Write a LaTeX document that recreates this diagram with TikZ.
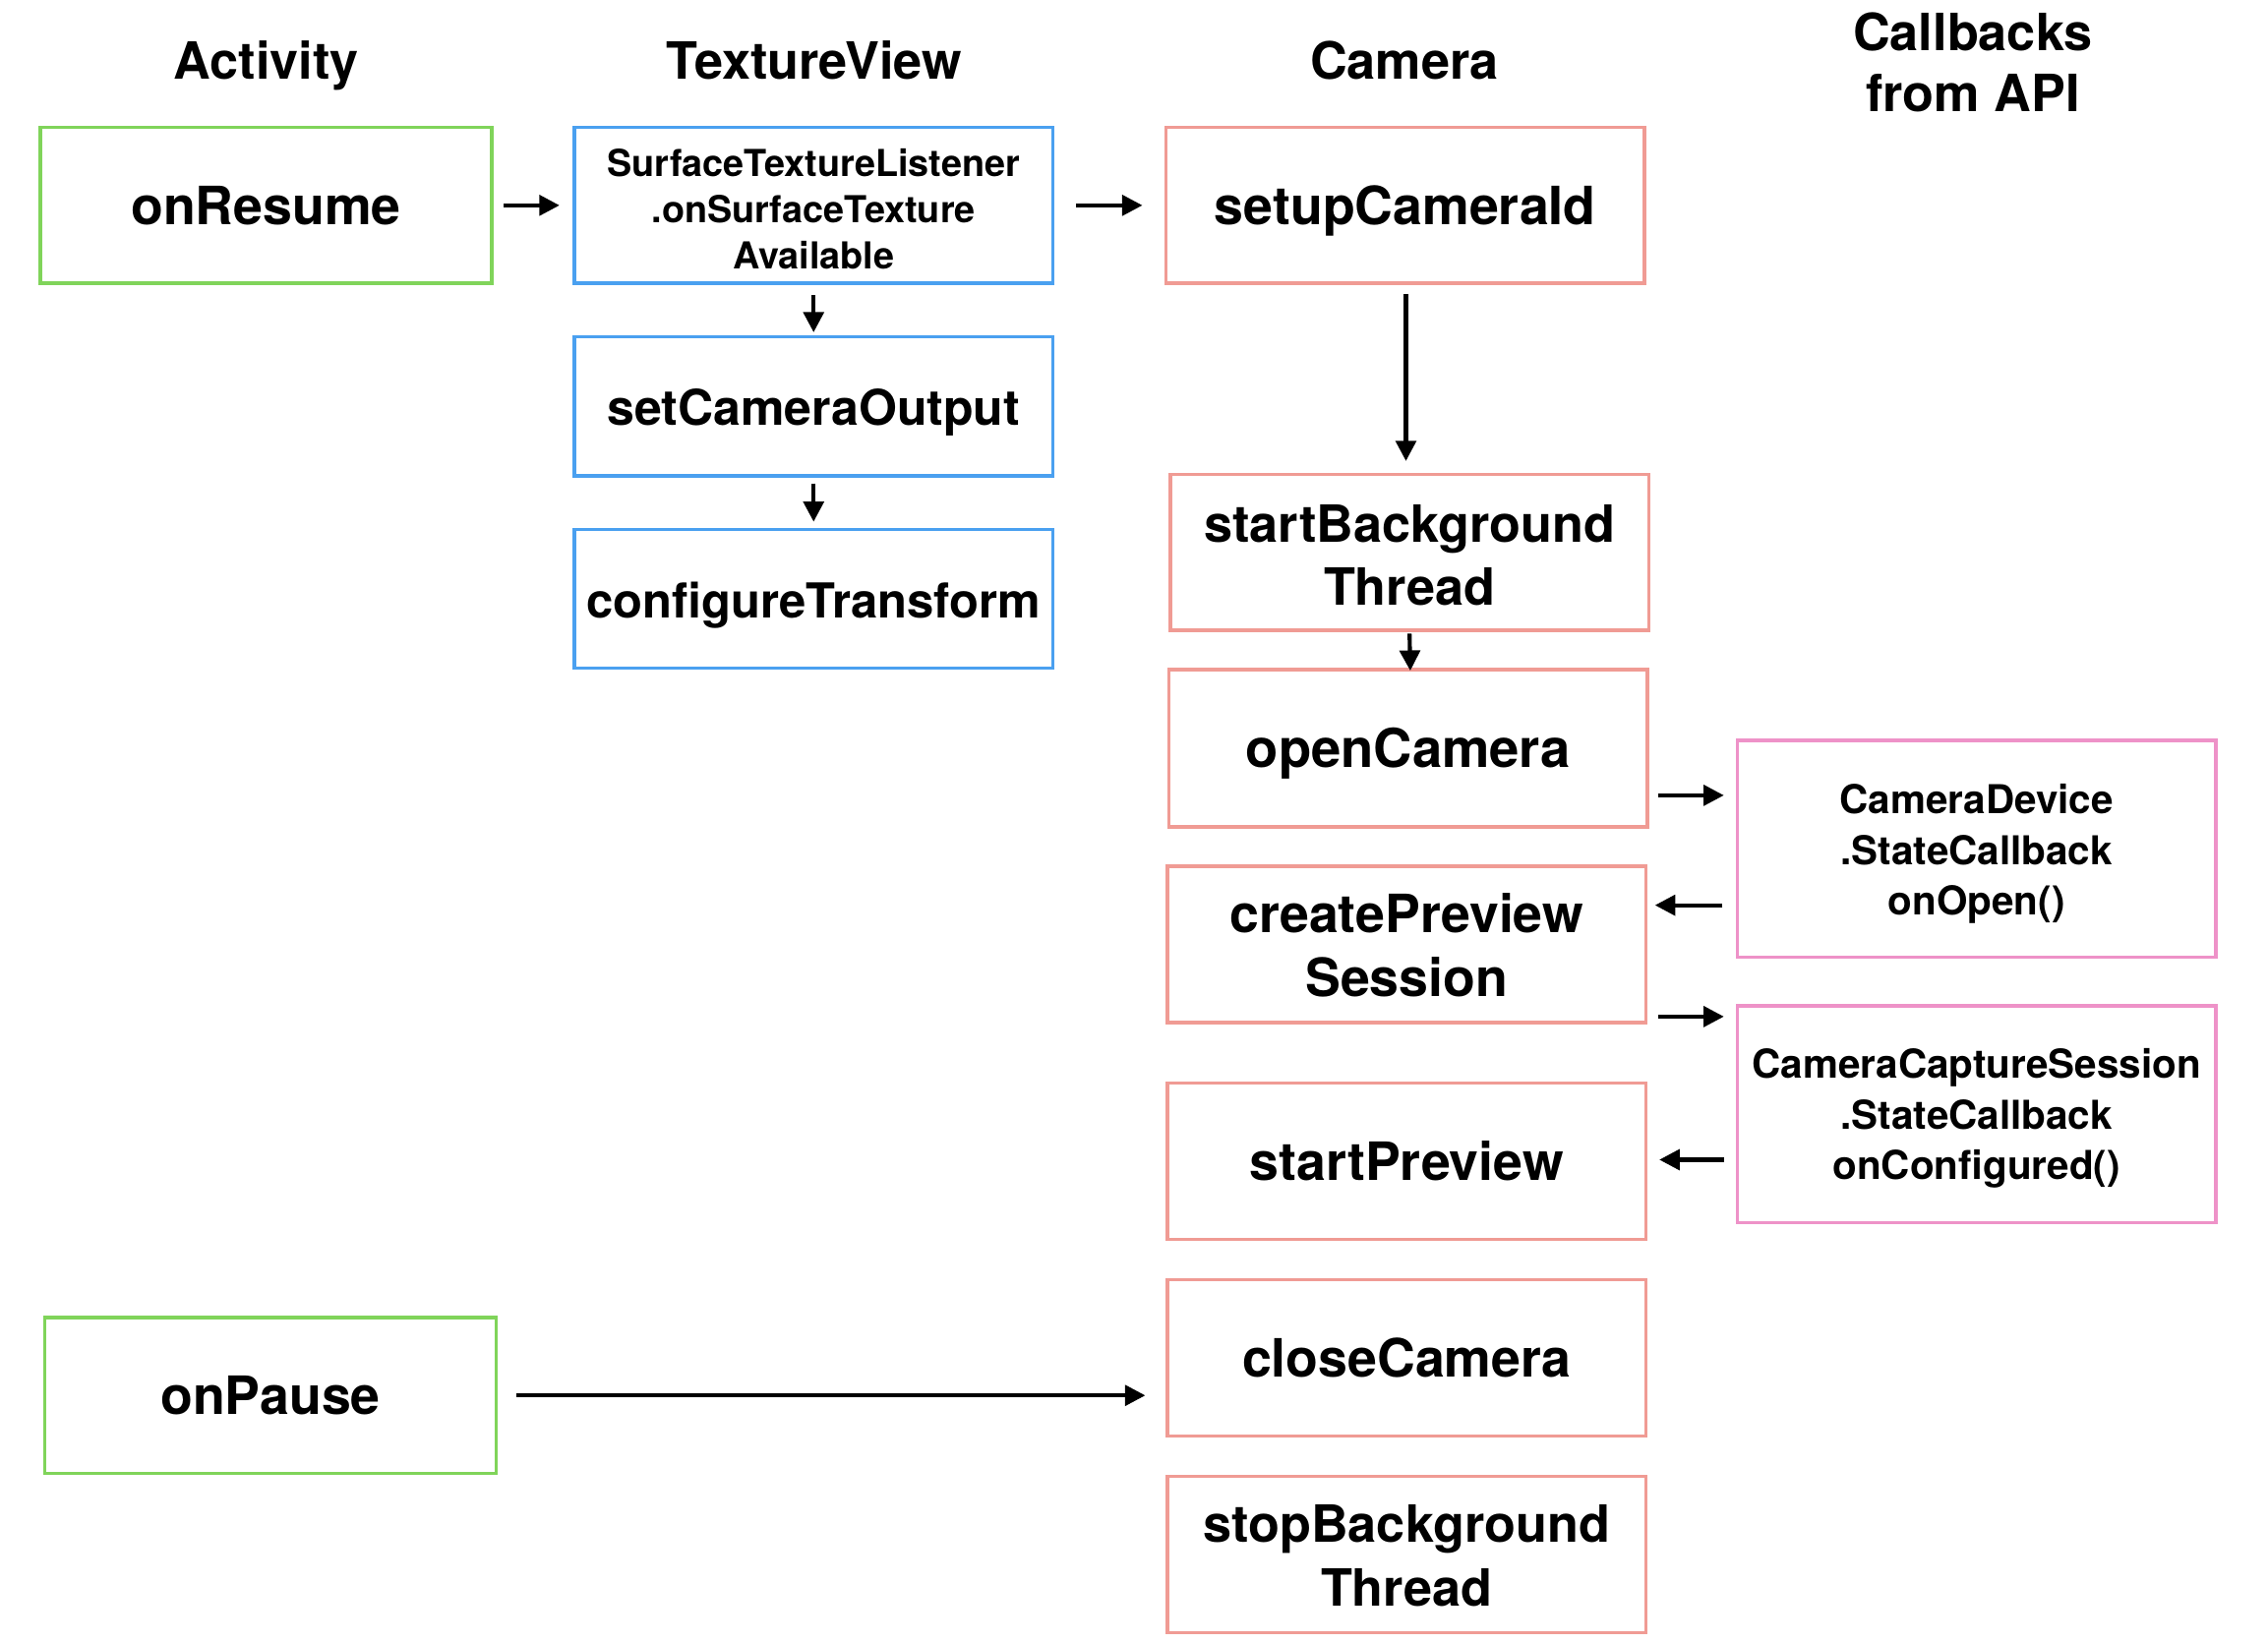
\documentclass[tikz,border=0pt]{standalone}
\usepackage{fontspec}
\setmainfont{TeX Gyre Heros}
\usetikzlibrary{arrows.meta,calc}
\definecolor{cgreen}{RGB}{128,212,90}
\definecolor{cblue}{RGB}{74,160,240}
\definecolor{csalmon}{RGB}{240,155,148}
\definecolor{cpink}{RGB}{238,146,200}
\newcommand\fs[2]{\fontsize{#1pt}{#2pt}\selectfont\bfseries}
\tikzset{
  box/.style={draw,line width=2.4pt,minimum width=331pt,minimum height=108pt,inner sep=0pt,align=center,font=\fs{36.5}{44},text depth=0pt},
  one/.style={text height=26.2pt},
  actbox/.style={box,draw=cgreen,minimum width=312pt},
  texbox/.style={box,draw=cblue},
  cambox/.style={box,draw=csalmon},
  cbbox/.style={box,draw=cpink,minimum height=150pt,font=\fs{27.5}{35}},
  hdr/.style={inner sep=0pt,anchor=base,align=center,font=\fs{35.5}{42}},
  arr/.style={line width=2.8pt,-{Triangle[length=14pt,width=14pt]}}
}
\begin{document}
\begin{tikzpicture}[x=1pt,y=-1pt]
\fill[white] (0,0) rectangle (1568,1136);
\useasboundingbox (0,0) rectangle (1568,1136);
% headers
\node[hdr] (hAct) at (184,55) {Activity};
\node[hdr] (hTex) at (563,55) {TextureView};
\node[hdr] (hCam) at (971,55) {Camera};
\node[hdr,anchor=center] (hCb) at (1364,43) {Callbacks\\from API};
% activity
\node[actbox,one] (onResume) at (184,142) {onResume};
\node[actbox,one] (onPause) at (187,965) {onPause};
% texture view
\node[texbox,font=\fs{25.7}{32},text height=88.4pt] (stl) at (562.5,142) {SurfaceTextureListener\\.onSurfaceTexture\\Available};
\node[texbox,one,minimum height=96pt,font=\fs{34}{44}] (setOut) at (562.5,281) {setCameraOutput};
\node[texbox,one,minimum height=96pt,font=\fs{33.3}{44}] (confT) at (562.5,414) {configureTransform};
% camera
\node[cambox,one] (setupId) at (971.5,142) {setupCameraId};
\node[cambox,font=\fs{35.5}{44},text height=73.4pt] (startBg) at (974.5,382) {startBackground\\Thread};
\node[cambox,one,minimum height=109pt,font=\fs{37}{44}] (openCam) at (973.5,517.5) {openCamera};
\node[cambox,text height=72.2pt] (createPrev) at (972.5,653) {createPreview\\Session};
\node[cambox,one] (startPrev) at (972.5,803) {startPreview};
\node[cambox,one] (closeCam) at (972.5,939) {closeCamera};
\node[cambox,font=\fs{35.5}{44},text height=71.4pt] (stopBg) at (972.5,1075) {stopBackground\\Thread};
% callbacks
\node[cbbox,text height=91.8pt] (camDev) at (1366.5,587) {CameraDevice\\.StateCallback\\onOpen()};
\node[cbbox,text height=90.8pt] (camCap) at (1366.5,770.5) {CameraCaptureSession\\.StateCallback\\onConfigured()};
% arrows
\draw[arr] ($(onResume.east)+(7,0)$) -- ($(stl.west)+(-9,0)$);
\draw[arr] ($(stl.east)+(15,0)$) -- ($(setupId.west)+(-15,0)$);
\draw[arr] ($(stl.south)+(0,7)$) -- ($(setOut.north)+(0,-2)$);
\draw[arr] ($(setOut.south)+(0,4)$) -- ($(confT.north)+(0,-4)$);
\draw[arr] ($(setupId.south)+(0.5,6)$) -- ($(startBg.north)+(-2.5,-8)$);
\draw[arr] ($(startBg.south)+(0,1)$) -- ($(openCam.north)+(1.5,2)$);
\draw[arr] ($(openCam.east)+(6,32.5)$) -- ($(camDev.west)+(-8,-37)$);
\draw[arr] ($(camDev.west)+(-9,39)$) -- ($(createPrev.east)+(5,-27)$);
\draw[arr] ($(createPrev.east)+(7,50)$) -- ($(camCap.west)+(-8,-67.5)$);
\draw[arr] ($(camCap.west)+(-8,31.5)$) -- ($(startPrev.east)+(8,-1)$);
\draw[arr] ($(onPause.east)+(13,0)$) -- ($(closeCam.west)+(-14,26)$);
\end{tikzpicture}
\end{document}
